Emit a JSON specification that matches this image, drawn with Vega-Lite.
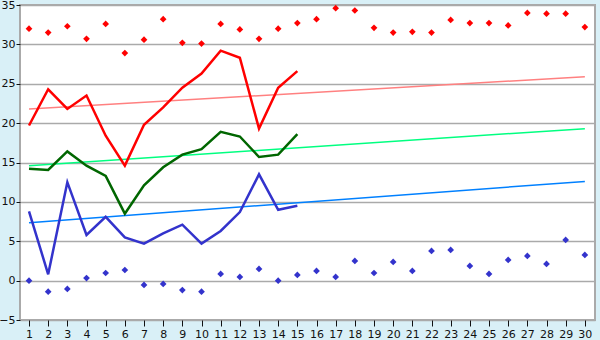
{
  "$schema": "https://vega.github.io/schema/vega-lite/v6.json",
  "width": 575,
  "height": 315,
  "autosize": {"type": "none"},
  "padding": {"left": 20, "top": 5, "right": 5, "bottom": 20},
  "background": "#d9f0f7",
  "config": {
    "view": {"fill": "white", "stroke": "#aaaaaa", "strokeWidth": 2},
    "axis": {"labelFont": "DejaVu Sans", "labelFontSize": 11, "labelColor": "#111111", "domain": false, "tickColor": "#111111", "tickSize": 5}
  },
  "datasets": {
    "lines": [
      {"day": 1, "s": "max", "v": 19.7}, {"day": 2, "s": "max", "v": 24.3}, {"day": 3, "s": "max", "v": 21.8}, {"day": 4, "s": "max", "v": 23.5}, {"day": 5, "s": "max", "v": 18.4},
      {"day": 6, "s": "max", "v": 14.6}, {"day": 7, "s": "max", "v": 19.8}, {"day": 8, "s": "max", "v": 22.0}, {"day": 9, "s": "max", "v": 24.5}, {"day": 10, "s": "max", "v": 26.3},
      {"day": 11, "s": "max", "v": 29.2}, {"day": 12, "s": "max", "v": 28.3}, {"day": 13, "s": "max", "v": 19.3}, {"day": 14, "s": "max", "v": 24.5}, {"day": 15, "s": "max", "v": 26.6},
      {"day": 1, "s": "mean", "v": 14.2}, {"day": 2, "s": "mean", "v": 14.05}, {"day": 3, "s": "mean", "v": 16.4}, {"day": 4, "s": "mean", "v": 14.6}, {"day": 5, "s": "mean", "v": 13.3},
      {"day": 6, "s": "mean", "v": 8.5}, {"day": 7, "s": "mean", "v": 12.1}, {"day": 8, "s": "mean", "v": 14.4}, {"day": 9, "s": "mean", "v": 16.0}, {"day": 10, "s": "mean", "v": 16.7},
      {"day": 11, "s": "mean", "v": 18.9}, {"day": 12, "s": "mean", "v": 18.3}, {"day": 13, "s": "mean", "v": 15.7}, {"day": 14, "s": "mean", "v": 16.0}, {"day": 15, "s": "mean", "v": 18.6},
      {"day": 1, "s": "min", "v": 8.8}, {"day": 2, "s": "min", "v": 0.8}, {"day": 3, "s": "min", "v": 12.5}, {"day": 4, "s": "min", "v": 5.8}, {"day": 5, "s": "min", "v": 8.1},
      {"day": 6, "s": "min", "v": 5.5}, {"day": 7, "s": "min", "v": 4.7}, {"day": 8, "s": "min", "v": 6.0}, {"day": 9, "s": "min", "v": 7.1}, {"day": 10, "s": "min", "v": 4.7},
      {"day": 11, "s": "min", "v": 6.3}, {"day": 12, "s": "min", "v": 8.7}, {"day": 13, "s": "min", "v": 13.5}, {"day": 14, "s": "min", "v": 9.0}, {"day": 15, "s": "min", "v": 9.5}
    ],
    "trend": [
      {"day": 1, "s": "tmax", "v": 21.8}, {"day": 30, "s": "tmax", "v": 25.9},
      {"day": 1, "s": "tmean", "v": 14.6}, {"day": 30, "s": "tmean", "v": 19.3},
      {"day": 1, "s": "tmin", "v": 7.35}, {"day": 30, "s": "tmin", "v": 12.6}
    ],
    "records": [
      {"day": 1, "s": "recmax", "v": 32.0}, {"day": 2, "s": "recmax", "v": 31.5}, {"day": 3, "s": "recmax", "v": 32.3}, {"day": 4, "s": "recmax", "v": 30.7}, {"day": 5, "s": "recmax", "v": 32.6},
      {"day": 6, "s": "recmax", "v": 28.9}, {"day": 7, "s": "recmax", "v": 30.6}, {"day": 8, "s": "recmax", "v": 33.2}, {"day": 9, "s": "recmax", "v": 30.2}, {"day": 10, "s": "recmax", "v": 30.1},
      {"day": 11, "s": "recmax", "v": 32.6}, {"day": 12, "s": "recmax", "v": 31.9}, {"day": 13, "s": "recmax", "v": 30.7}, {"day": 14, "s": "recmax", "v": 32.0}, {"day": 15, "s": "recmax", "v": 32.7},
      {"day": 16, "s": "recmax", "v": 33.2}, {"day": 17, "s": "recmax", "v": 34.6}, {"day": 18, "s": "recmax", "v": 34.3}, {"day": 19, "s": "recmax", "v": 32.1}, {"day": 20, "s": "recmax", "v": 31.5},
      {"day": 21, "s": "recmax", "v": 31.6}, {"day": 22, "s": "recmax", "v": 31.5}, {"day": 23, "s": "recmax", "v": 33.1}, {"day": 24, "s": "recmax", "v": 32.7}, {"day": 25, "s": "recmax", "v": 32.7},
      {"day": 26, "s": "recmax", "v": 32.4}, {"day": 27, "s": "recmax", "v": 34.0}, {"day": 28, "s": "recmax", "v": 33.9}, {"day": 29, "s": "recmax", "v": 33.9}, {"day": 30, "s": "recmax", "v": 32.2},
      {"day": 1, "s": "recmin", "v": 0.0}, {"day": 2, "s": "recmin", "v": -1.4}, {"day": 3, "s": "recmin", "v": -1.05}, {"day": 4, "s": "recmin", "v": 0.33}, {"day": 5, "s": "recmin", "v": 0.97},
      {"day": 6, "s": "recmin", "v": 1.35}, {"day": 7, "s": "recmin", "v": -0.55}, {"day": 8, "s": "recmin", "v": -0.42}, {"day": 9, "s": "recmin", "v": -1.2}, {"day": 10, "s": "recmin", "v": -1.4},
      {"day": 11, "s": "recmin", "v": 0.85}, {"day": 12, "s": "recmin", "v": 0.47}, {"day": 13, "s": "recmin", "v": 1.48}, {"day": 14, "s": "recmin", "v": 0.0}, {"day": 15, "s": "recmin", "v": 0.72},
      {"day": 16, "s": "recmin", "v": 1.23}, {"day": 17, "s": "recmin", "v": 0.47}, {"day": 18, "s": "recmin", "v": 2.5}, {"day": 19, "s": "recmin", "v": 0.97}, {"day": 20, "s": "recmin", "v": 2.37},
      {"day": 21, "s": "recmin", "v": 1.23}, {"day": 22, "s": "recmin", "v": 3.77}, {"day": 23, "s": "recmin", "v": 3.9}, {"day": 24, "s": "recmin", "v": 1.86}, {"day": 25, "s": "recmin", "v": 0.85},
      {"day": 26, "s": "recmin", "v": 2.63}, {"day": 27, "s": "recmin", "v": 3.13}, {"day": 28, "s": "recmin", "v": 2.12}, {"day": 29, "s": "recmin", "v": 5.17}, {"day": 30, "s": "recmin", "v": 3.26}
    ]
  },
  "encoding": {
    "x": {"field": "day", "type": "quantitative", "scale": {"domain": [0.53, 30.53], "nice": false, "zero": false},
      "axis": {"title": null, "values": [1,2,3,4,5,6,7,8,9,10,11,12,13,14,15,16,17,18,19,20,21,22,23,24,25,26,27,28,29,30], "grid": false, "labelPadding": 2, "tickSize": 6}},
    "y": {"field": "v", "type": "quantitative", "scale": {"domain": [-5, 35], "nice": false},
      "axis": {"title": null, "values": [-5,0,5,10,15,20,25,30,35], "grid": true, "gridColor": "#aaaaaa", "gridWidth": 1.5, "gridOpacity": 1, "tickSize": 4, "labelPadding": 1}},
    "color": {"field": "s", "type": "nominal", "legend": null,
      "scale": {"domain": ["max","mean","min","tmax","tmean","tmin","recmax","recmin"],
                "range": ["#ff0000","#006600","#3333cc","#ff8080","#00ff80","#0080ff","#ff0000","#3333cc"]}}
  },
  "layer": [
    {"data": {"name": "trend"}, "mark": {"type": "line", "strokeWidth": 1.5, "interpolate": "linear"}, "encoding": {"detail": {"field": "s"}}},
    {"data": {"name": "lines"}, "mark": {"type": "line", "strokeWidth": 2.5}, "encoding": {"detail": {"field": "s"}}},
    {"data": {"name": "records"}, "mark": {"type": "point", "shape": "diamond", "filled": true, "size": 45, "opacity": 1}}
  ]
}
